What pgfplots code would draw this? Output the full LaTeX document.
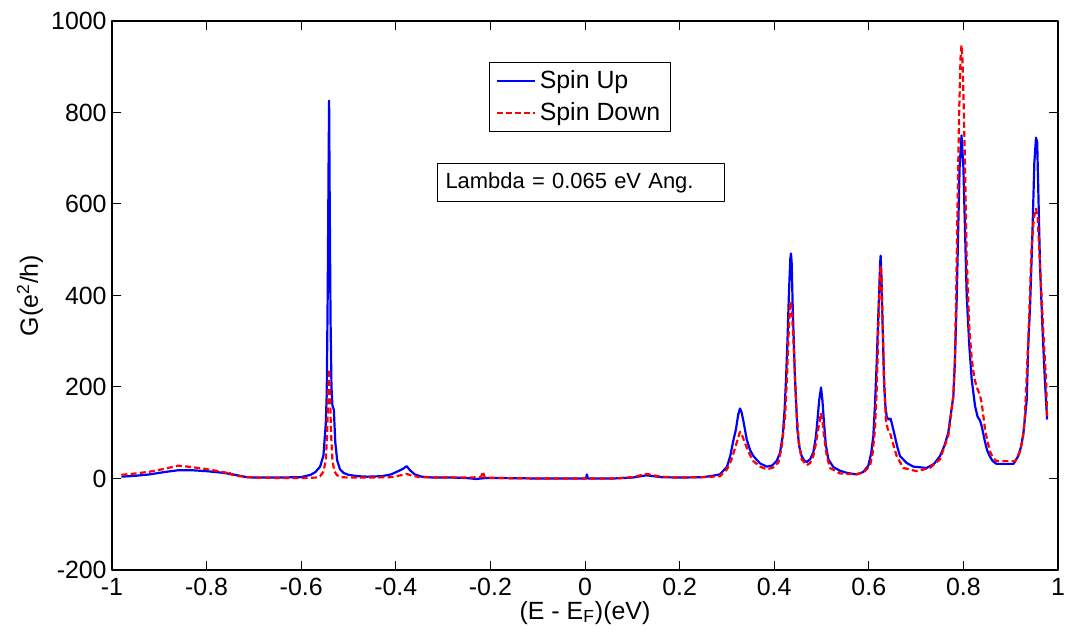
\documentclass[border=0pt]{standalone}
\usepackage{fontspec}
\setmainfont{Liberation Sans}
\usepackage{pgfplots}
\pgfplotsset{compat=1.18}
\begin{document}
\begin{tikzpicture}
\begin{axis}[name=ax,
  scale only axis, width=473bp, height=274.5bp,
  xmin=-1, xmax=1, ymin=-200, ymax=1000,
  xtick={-1,-0.8,-0.6,-0.4,-0.2,0,0.2,0.4,0.6,0.8,1},
  xticklabels={-1,-0.8,-0.6,-0.4,-0.2,0,0.2,0.4,0.6,0.8,1},
  ytick={-200,0,200,400,600,800,1000},
  yticklabels={-200,0,200,400,600,800,1000},
  tick align=inside, major tick length=4.5bp,
  tick style={black, line width=0.5bp},
  axis line style={line width=0.75bp},
  tick label style={font=\fontsize{12.5}{14}\selectfont},
  xticklabel style={inner sep=1.5bp, yshift=-2.5bp},
  yticklabel style={inner sep=2.5bp},
  xlabel={(E - E\textsubscript{F})(eV)},
  ylabel={G(e\textsuperscript{2}/h)},
  label style={font=\fontsize{12.5}{14}\selectfont},
  xlabel style={at={(axis description cs:0.5,0)}, anchor=base, yshift=-24.5bp},
  ylabel style={at={(axis description cs:0,0.5)}, anchor=center, rotate=0, yshift=41bp},
  legend style={at={(0.3985,0.9259)}, anchor=north west, draw=black, line width=0.6bp,
    font=\fontsize{12.5}{14}\selectfont, inner xsep=3bp, inner ysep=2bp, row sep=1.5bp,
    cells={anchor=west}},
  legend image code/.code={\draw[#1] (0bp,0bp) -- (19bp,0bp);},
  line join=round,
]
\addplot[blue, line width=1.1bp] coordinates {
(-0.98,4) (-0.95,6) (-0.92,9) (-0.89,14) (-0.86,18) (-0.83,18) (-0.80,16) (-0.77,13)
(-0.75,10) (-0.73,6) (-0.715,3) (-0.70,2) (-0.65,2) (-0.60,3) (-0.58,8) (-0.57,14)
(-0.56,26) (-0.553,50) (-0.548,120) (-0.546,185) (-0.544,400) (-0.542,700) (-0.541,826)
(-0.540,650) (-0.538,350) (-0.536,200) (-0.534,160) (-0.531,150) (-0.528,80) (-0.524,40)
(-0.518,20) (-0.51,12) (-0.50,8) (-0.48,5) (-0.46,4) (-0.43,5) (-0.41,9) (-0.395,16)
(-0.385,21) (-0.377,27) (-0.370,18) (-0.36,9) (-0.345,4) (-0.32,2) (-0.28,2) (-0.25,1)
(-0.23,-1) (-0.21,1) (-0.18,1) (-0.10,0) (-0.02,0) (0.002,0) (0.004,9) (0.006,0)
(0.06,0) (0.10,2) (0.13,7) (0.16,3) (0.20,2) (0.25,3) (0.27,6) (0.285,9) (0.30,25)
(0.307,49) (0.313,80) (0.319,107) (0.324,140) (0.3277,153) (0.331,145) (0.335,125)
(0.342,85) (0.349,62) (0.356,49) (0.37,33) (0.384,26) (0.395,28) (0.405,38) (0.412,55)
(0.418,93) (0.422,150) (0.425,217) (0.428,300) (0.431,400) (0.434,480) (0.4355,492)
(0.437,470) (0.439,380) (0.442,280) (0.444,217) (0.449,107) (0.453,70) (0.458,49)
(0.463,40) (0.4687,36) (0.476,42) (0.4827,57) (0.488,90) (0.491,122) (0.495,170)
(0.499,199) (0.502,170) (0.5053,122) (0.509,75) (0.5145,42) (0.525,25) (0.539,17)
(0.555,12) (0.574,9) (0.588,14) (0.599,28) (0.605,55) (0.6096,93) (0.613,160)
(0.6167,253) (0.6195,340) (0.6216,399) (0.624,470) (0.625,487) (0.6265,450)
(0.6286,363) (0.632,217) (0.635,160) (0.638,134) (0.642,129) (0.646,131) (0.650,115)
(0.655,93) (0.660,70) (0.666,49) (0.68,34) (0.694,26) (0.7223,23) (0.738,32)
(0.7505,49) (0.760,72) (0.768,100) (0.7787,180) (0.782,253) (0.786,399) (0.789,545)
(0.792,680) (0.796,750) (0.800,680) (0.803,560) (0.807,399) (0.8125,290) (0.8175,217)
(0.8245,159) (0.83,135) (0.835,127) (0.8386,115) (0.8457,80) (0.85,62) (0.856,48)
(0.862,38) (0.87,32) (0.89,32) (0.906,32) (0.916,49) (0.922,70) (0.927,100)
(0.934,173) (0.937,290) (0.941,377) (0.946,539) (0.950,690) (0.9535,745) (0.956,735)
(0.959,600) (0.962,465) (0.9675,320) (0.9725,210) (0.977,129)
};
\addlegendentry{Spin Up}
\addplot[red, line width=1.1bp, dash pattern=on 3bp off 1.6bp] coordinates {
(-0.98,8) (-0.95,11) (-0.92,15) (-0.89,21) (-0.86,28) (-0.84,26) (-0.81,22) (-0.78,17)
(-0.755,12) (-0.752,15) (-0.749,9) (-0.73,5) (-0.715,3) (-0.70,2) (-0.65,1) (-0.60,1)
(-0.57,2) (-0.56,5) (-0.553,15) (-0.548,40) (-0.545,100) (-0.543,180) (-0.541,239)
(-0.539,180) (-0.537,100) (-0.534,40) (-0.53,16) (-0.524,7) (-0.515,3) (-0.50,2)
(-0.45,2) (-0.41,3) (-0.39,7) (-0.377,10) (-0.365,6) (-0.35,3) (-0.30,2) (-0.25,2)
(-0.22,3) (-0.216,15) (-0.212,2) (-0.18,1) (-0.10,0) (0.0,0) (0.06,0) (0.10,3)
(0.13,10) (0.16,4) (0.20,2) (0.25,3) (0.27,4) (0.2854,5) (0.30,20) (0.31,42)
(0.3227,85) (0.3277,102) (0.333,92) (0.338,78) (0.347,55) (0.3558,38) (0.37,26)
(0.384,20) (0.398,24) (0.409,35) (0.416,70) (0.423,136) (0.427,220) (0.430,305)
(0.433,370) (0.435,387) (0.437,370) (0.4406,305) (0.444,220) (0.4475,143) (0.452,80)
(0.458,42) (0.4687,29) (0.476,34) (0.4827,49) (0.488,75) (0.493,107) (0.499,143)
(0.502,125) (0.5053,93) (0.511,50) (0.518,23) (0.539,11) (0.574,9) (0.59,14)
(0.6026,28) (0.608,55) (0.613,107) (0.617,200) (0.620,326) (0.623,430) (0.625,465)
(0.627,430) (0.6306,290) (0.633,200) (0.636,130) (0.640,108) (0.6448,100) (0.650,80)
(0.659,49) (0.673,23) (0.701,16) (0.729,23) (0.7505,42) (0.768,93) (0.7787,180)
(0.782,260) (0.785,420) (0.788,620) (0.791,800) (0.794,920) (0.796,947) (0.798,920)
(0.801,800) (0.804,650) (0.807,480) (0.8125,330) (0.8175,262) (0.823,220) (0.828,200)
(0.834,185) (0.8386,166) (0.8457,108) (0.85,85) (0.856,60) (0.862,46) (0.87,38)
(0.909,38) (0.92,60) (0.926,90) (0.93,136) (0.937,297) (0.944,502) (0.949,570)
(0.9535,590) (0.957,570) (0.962,465) (0.969,320) (0.975,210) (0.977,129)
};
\addlegendentry{Spin Down}
\node[draw=black, line width=0.5bp, anchor=north west, inner xsep=3.85bp, inner ysep=0pt,
  minimum height=18.8bp, text width=135.6bp, align=left,
  font=\fontsize{11}{12}\selectfont] at (rel axis cs:0.3439,0.7408) {Lambda = 0.065 eV Ang.};
\end{axis}
\pgfresetboundingbox
\path ([xshift=-56bp,yshift=-34.5bp]ax.south west) rectangle ([xshift=4.5bp,yshift=10.5bp]ax.north east);
\end{tikzpicture}
\end{document}
